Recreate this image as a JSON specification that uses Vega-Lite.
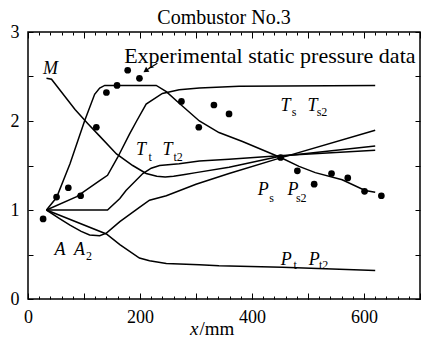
{
  "$schema": "https://vega.github.io/schema/vega-lite/v6.json",
  "width": 392,
  "height": 267,
  "autosize": {"type": "none"},
  "padding": {"left": 28, "top": 32, "right": 3, "bottom": 46},
  "title": {"text": "Combustor No.3", "font": "Liberation Serif", "fontSize": 20, "fontWeight": "normal", "offset": -5, "color": "black"},
  "config": {
    "view": {"stroke": "black", "strokeWidth": 1.5},
    "font": "Liberation Serif",
    "axis": {"domain": false, "grid": false, "tickColor": "black", "tickWidth": 1, "labelColor": "black", "labelFont": "Liberation Serif", "labelFontSize": 18, "labelFlush": false, "labelOverlap": false, "titleFont": "Liberation Serif", "titleFontSize": 19, "titleFontWeight": "normal", "titleColor": "black"}
  },
  "datasets": {
    "curves": [
      {"series": "M", "x": 33, "y": 2.48}, {"series": "M", "x": 42, "y": 2.47}, {"series": "M", "x": 84, "y": 2.13}, {"series": "M", "x": 107, "y": 1.97}, {"series": "M", "x": 128, "y": 1.83}, {"series": "M", "x": 158, "y": 1.63}, {"series": "M", "x": 187, "y": 1.5}, {"series": "M", "x": 211, "y": 1.41}, {"series": "M", "x": 230, "y": 1.38}, {"series": "M", "x": 245, "y": 1.37}, {"series": "M", "x": 260, "y": 1.38}, {"series": "M", "x": 280, "y": 1.4}, {"series": "M", "x": 300, "y": 1.42}, {"series": "M", "x": 359, "y": 1.48}, {"series": "M", "x": 448, "y": 1.6}, {"series": "M", "x": 620, "y": 1.72},
      {"series": "Ps", "x": 33, "y": 1.0}, {"series": "Ps", "x": 51, "y": 1.14}, {"series": "Ps", "x": 75, "y": 1.52}, {"series": "Ps", "x": 101, "y": 2.0}, {"series": "Ps", "x": 119, "y": 2.3}, {"series": "Ps", "x": 128, "y": 2.37}, {"series": "Ps", "x": 137, "y": 2.4}, {"series": "Ps", "x": 229, "y": 2.4}, {"series": "Ps", "x": 247, "y": 2.33}, {"series": "Ps", "x": 270, "y": 2.2}, {"series": "Ps", "x": 306, "y": 2.0}, {"series": "Ps", "x": 341, "y": 1.87}, {"series": "Ps", "x": 383, "y": 1.77}, {"series": "Ps", "x": 451, "y": 1.59}, {"series": "Ps", "x": 484, "y": 1.49}, {"series": "Ps", "x": 513, "y": 1.42}, {"series": "Ps", "x": 561, "y": 1.34}, {"series": "Ps", "x": 602, "y": 1.22}, {"series": "Ps", "x": 620, "y": 1.2},
      {"series": "Ts", "x": 33, "y": 1.0}, {"series": "Ts", "x": 87, "y": 1.15}, {"series": "Ts", "x": 128, "y": 1.33}, {"series": "Ts", "x": 142, "y": 1.39}, {"series": "Ts", "x": 160, "y": 1.59}, {"series": "Ts", "x": 181, "y": 1.85}, {"series": "Ts", "x": 194, "y": 2.0}, {"series": "Ts", "x": 211, "y": 2.19}, {"series": "Ts", "x": 240, "y": 2.31}, {"series": "Ts", "x": 270, "y": 2.35}, {"series": "Ts", "x": 306, "y": 2.37}, {"series": "Ts", "x": 377, "y": 2.39}, {"series": "Ts", "x": 620, "y": 2.4},
      {"series": "Tt", "x": 33, "y": 1.0}, {"series": "Tt", "x": 142, "y": 1.0}, {"series": "Tt", "x": 164, "y": 1.13}, {"series": "Tt", "x": 175, "y": 1.22}, {"series": "Tt", "x": 205, "y": 1.41}, {"series": "Tt", "x": 220, "y": 1.47}, {"series": "Tt", "x": 235, "y": 1.5}, {"series": "Tt", "x": 270, "y": 1.52}, {"series": "Tt", "x": 306, "y": 1.55}, {"series": "Tt", "x": 359, "y": 1.57}, {"series": "Tt", "x": 448, "y": 1.61}, {"series": "Tt", "x": 620, "y": 1.67},
      {"series": "A", "x": 33, "y": 1.0}, {"series": "A", "x": 55, "y": 0.91}, {"series": "A", "x": 75, "y": 0.83}, {"series": "A", "x": 95, "y": 0.76}, {"series": "A", "x": 110, "y": 0.72}, {"series": "A", "x": 128, "y": 0.71}, {"series": "A", "x": 140, "y": 0.74}, {"series": "A", "x": 164, "y": 0.87}, {"series": "A", "x": 199, "y": 1.03}, {"series": "A", "x": 217, "y": 1.11}, {"series": "A", "x": 247, "y": 1.16}, {"series": "A", "x": 300, "y": 1.29}, {"series": "A", "x": 359, "y": 1.41}, {"series": "A", "x": 448, "y": 1.58}, {"series": "A", "x": 620, "y": 1.895},
      {"series": "Pt", "x": 33, "y": 1.0}, {"series": "Pt", "x": 140, "y": 0.73}, {"series": "Pt", "x": 164, "y": 0.61}, {"series": "Pt", "x": 199, "y": 0.46}, {"series": "Pt", "x": 217, "y": 0.43}, {"series": "Pt", "x": 247, "y": 0.4}, {"series": "Pt", "x": 306, "y": 0.384}, {"series": "Pt", "x": 341, "y": 0.373}, {"series": "Pt", "x": 454, "y": 0.358}, {"series": "Pt", "x": 620, "y": 0.32}
    ],
    "dots": [
      {"x": 27, "y": 0.9}, {"x": 51, "y": 1.145}, {"x": 72, "y": 1.25}, {"x": 94, "y": 1.16}, {"x": 122, "y": 1.93}, {"x": 140, "y": 2.32}, {"x": 159, "y": 2.4}, {"x": 178, "y": 2.57}, {"x": 199, "y": 2.48}, {"x": 274, "y": 2.22}, {"x": 305, "y": 1.93}, {"x": 332, "y": 2.18}, {"x": 359, "y": 2.08}, {"x": 451, "y": 1.59}, {"x": 481, "y": 1.44}, {"x": 511, "y": 1.29}, {"x": 542, "y": 1.41}, {"x": 571, "y": 1.36}, {"x": 601, "y": 1.21}, {"x": 631, "y": 1.16}
    ],
    "arrow": [{"x": 231, "y": 2.65, "x2": 211, "y2": 2.57}],
    "head": [{"x": 210, "y": 2.565}],
    "main": [
      {"t": "M", "x": 40, "y": 2.585},
      {"t": "T", "x": 460, "y": 2.17}, {"t": "T", "x": 508, "y": 2.17},
      {"t": "T", "x": 202, "y": 1.67}, {"t": "T", "x": 249, "y": 1.67},
      {"t": "P", "x": 420, "y": 1.22}, {"t": "P", "x": 473, "y": 1.22},
      {"t": "P", "x": 461, "y": 0.44}, {"t": "P", "x": 511, "y": 0.44},
      {"t": "A", "x": 57, "y": 0.55}, {"t": "A", "x": 92, "y": 0.55}
    ],
    "subs": [
      {"t": "s", "x": 475, "y": 2.1}, {"t": "s2", "x": 525, "y": 2.1},
      {"t": "t", "x": 218, "y": 1.6}, {"t": "t2", "x": 268, "y": 1.6},
      {"t": "s", "x": 435, "y": 1.14}, {"t": "s2", "x": 488, "y": 1.14},
      {"t": "t", "x": 477, "y": 0.38}, {"t": "t2", "x": 528, "y": 0.38},
      {"t": "2", "x": 109, "y": 0.48}
    ],
    "note": [{"t": "Experimental static pressure data", "x": 692, "y": 2.73}]
  },
  "layer": [
    {
      "data": {"name": "curves"},
      "mark": {"type": "line", "color": "black", "strokeWidth": 1.5},
      "encoding": {
        "x": {"field": "x", "type": "quantitative", "scale": {"domain": [0, 700], "nice": false, "zero": false},
          "axis": {"orient": "bottom", "values": [0, 100, 200, 300, 400, 500, 600, 700], "tickSize": -6, "labelPadding": 15, "labelExpr": "datum.value % 200 === 0 ? format(datum.value, 'd') : ''", "title": "x", "titleFontStyle": "italic", "titleX": 170, "titleY": 35, "titleAlign": "right", "titleBaseline": "alphabetic", "titleAnchor": null}},
        "y": {"field": "y", "type": "quantitative", "scale": {"domain": [0, 3], "nice": false, "zero": false},
          "axis": {"orient": "left", "values": [0, 0.5, 1, 1.5, 2, 2.5, 3], "tickSize": -5, "labelPadding": 14, "labelExpr": "datum.value % 1 === 0 ? format(datum.value, 'd') : ''", "title": null}},
        "detail": {"field": "series"}
      }
    },
    {
      "data": {"name": "dots"},
      "mark": {"type": "point", "filled": true, "color": "black", "size": 45, "opacity": 1},
      "encoding": {
        "x": {"field": "x", "type": "quantitative", "scale": {"domain": [0, 700], "nice": false, "zero": false},
          "axis": {"orient": "bottom", "values": [0,20,40,60,80,100,120,140,160,180,200,220,240,260,280,300,320,340,360,380,400,420,440,460,480,500,520,540,560,580,600,620,640,660,680,700], "tickSize": -3, "labels": false, "title": "/mm", "titleX": 171, "titleY": 35, "titleAlign": "left", "titleBaseline": "alphabetic", "titleAnchor": null}},
        "y": {"field": "y", "type": "quantitative", "scale": {"domain": [0, 3], "nice": false, "zero": false},
          "axis": {"orient": "right", "values": [0, 0.5, 1, 1.5, 2, 2.5, 3], "tickSize": -5, "labels": false, "title": null}}
      }
    },
    {
      "data": {"name": "arrow"},
      "mark": {"type": "rule", "color": "black", "strokeWidth": 1.2},
      "encoding": {
        "x": {"field": "x", "type": "quantitative", "axis": {"orient": "top", "values": [0, 100, 200, 300, 400, 500, 600, 700], "tickSize": -6, "labels": false, "title": null}},
        "y": {"field": "y", "type": "quantitative", "axis": null},
        "x2": {"field": "x2"},
        "y2": {"field": "y2"}
      }
    },
    {
      "data": {"name": "head"},
      "mark": {"type": "point", "shape": "triangle-right", "filled": true, "color": "black", "size": 35, "angle": 146, "opacity": 1},
      "encoding": {
        "x": {"field": "x", "type": "quantitative", "axis": {"orient": "top", "values": [0,20,40,60,80,100,120,140,160,180,200,220,240,260,280,300,320,340,360,380,400,420,440,460,480,500,520,540,560,580,600,620,640,660,680,700], "tickSize": -3, "labels": false, "title": null}},
        "y": {"field": "y", "type": "quantitative", "axis": null}
      }
    },
    {
      "data": {"name": "main"},
      "mark": {"type": "text", "font": "Liberation Serif", "fontSize": 18, "fontStyle": "italic", "color": "black", "align": "center", "baseline": "middle"},
      "encoding": {
        "x": {"field": "x", "type": "quantitative", "axis": null},
        "y": {"field": "y", "type": "quantitative", "axis": null},
        "text": {"field": "t"}
      }
    },
    {
      "data": {"name": "subs"},
      "mark": {"type": "text", "font": "Liberation Serif", "fontSize": 12, "color": "black", "align": "center", "baseline": "middle"},
      "encoding": {
        "x": {"field": "x", "type": "quantitative", "axis": null},
        "y": {"field": "y", "type": "quantitative", "axis": null},
        "text": {"field": "t"}
      }
    },
    {
      "data": {"name": "note"},
      "mark": {"type": "text", "font": "Liberation Serif", "fontSize": 22, "color": "black", "align": "right", "baseline": "middle"},
      "encoding": {
        "x": {"field": "x", "type": "quantitative", "axis": null},
        "y": {"field": "y", "type": "quantitative", "axis": null},
        "text": {"field": "t"}
      }
    }
  ],
  "resolve": {"axis": {"x": "independent", "y": "independent"}}
}
